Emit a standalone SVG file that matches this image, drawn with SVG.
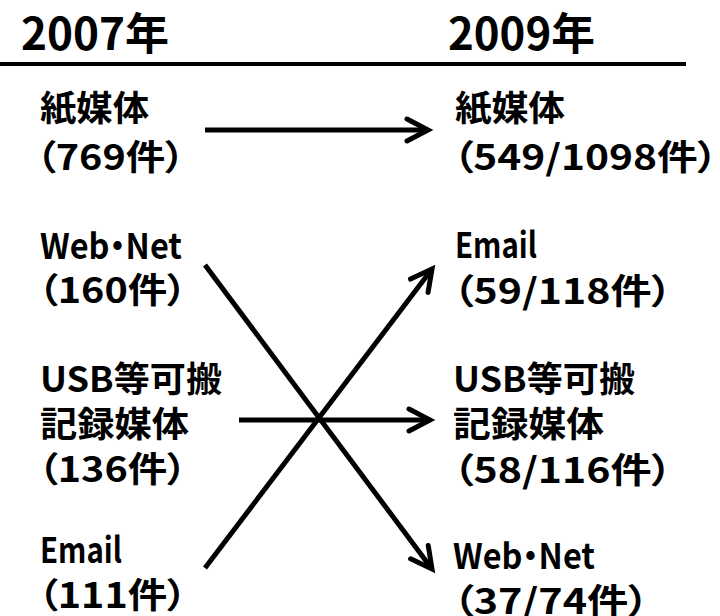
<svg xmlns="http://www.w3.org/2000/svg" width="720" height="616" viewBox="0 0 720 616">
<style>
text { font-family: "Noto Sans CJK JP", "Noto Sans", sans-serif; font-weight: 700; fill: #000; font-feature-settings: "palt" 1; }
.h { font-size: 44px; }
.b { font-size: 35px; }
.conn line { stroke: #000; stroke-width: 5; stroke-linecap: butt; }
</style>
<defs>
<marker id="ah" markerUnits="userSpaceOnUse" orient="auto" overflow="visible" markerWidth="1" markerHeight="1" refX="0" refY="0">
<path d="M-21,-11 L0,0 L-21,11" fill="none" stroke="#000" stroke-width="5" stroke-linecap="round" stroke-linejoin="miter"/>
</marker>
</defs>
<rect width="720" height="616" fill="#fff"/>
<g id="header">
<text class="h" x="21" y="50" textLength="148" lengthAdjust="spacingAndGlyphs">2007年</text>
<text class="h" x="448" y="50" textLength="147" lengthAdjust="spacingAndGlyphs">2009年</text>
<line x1="0" y1="64" x2="686" y2="64" stroke="#000" stroke-width="4"/>
</g>
<g id="left-paper">
<text class="b" x="40" y="121" textLength="109" lengthAdjust="spacingAndGlyphs">紙媒体</text>
<text class="b" x="36" y="170" textLength="149" lengthAdjust="spacingAndGlyphs">（769件）</text>
</g>
<g id="left-web">
<text class="b" x="40" y="259" textLength="142" lengthAdjust="spacingAndGlyphs">Web・Net</text>
<text class="b" x="38" y="303" textLength="149" lengthAdjust="spacingAndGlyphs">（160件）</text>
</g>
<g id="left-usb">
<text class="b" x="40" y="392" textLength="182" lengthAdjust="spacingAndGlyphs">USB等可搬</text>
<text class="b" x="40" y="437" textLength="149" lengthAdjust="spacingAndGlyphs">記録媒体</text>
<text class="b" x="38" y="482" textLength="149" lengthAdjust="spacingAndGlyphs">（136件）</text>
</g>
<g id="left-email">
<text class="b" x="40" y="563" textLength="82" lengthAdjust="spacingAndGlyphs">Email</text>
<text class="b" x="38" y="608" textLength="149" lengthAdjust="spacingAndGlyphs">（111件）</text>
</g>
<g id="right-paper">
<text class="b" x="455" y="121" textLength="110" lengthAdjust="spacingAndGlyphs">紙媒体</text>
<text class="b" x="453" y="170" textLength="265" lengthAdjust="spacingAndGlyphs">（549/1098件）</text>
</g>
<g id="right-email">
<text class="b" x="455" y="258" textLength="82" lengthAdjust="spacingAndGlyphs">Email</text>
<text class="b" x="453" y="304" textLength="219" lengthAdjust="spacingAndGlyphs">（59/118件）</text>
</g>
<g id="right-usb">
<text class="b" x="453" y="392" textLength="182" lengthAdjust="spacingAndGlyphs">USB等可搬</text>
<text class="b" x="453" y="437" textLength="151" lengthAdjust="spacingAndGlyphs">記録媒体</text>
<text class="b" x="453" y="483" textLength="219" lengthAdjust="spacingAndGlyphs">（58/116件）</text>
</g>
<g id="right-web">
<text class="b" x="453" y="569" textLength="142" lengthAdjust="spacingAndGlyphs">Web・Net</text>
<text class="b" x="453" y="614" textLength="196" lengthAdjust="spacingAndGlyphs">（37/74件）</text>
</g>
<g id="connectors" class="conn">
<line x1="205" y1="130" x2="428" y2="130" marker-end="url(#ah)"/>
<line x1="205" y1="265" x2="432" y2="569" marker-end="url(#ah)"/>
<line x1="239" y1="420" x2="430" y2="420" marker-end="url(#ah)"/>
<line x1="205" y1="568" x2="432" y2="269" marker-end="url(#ah)"/>
</g>
</svg>
